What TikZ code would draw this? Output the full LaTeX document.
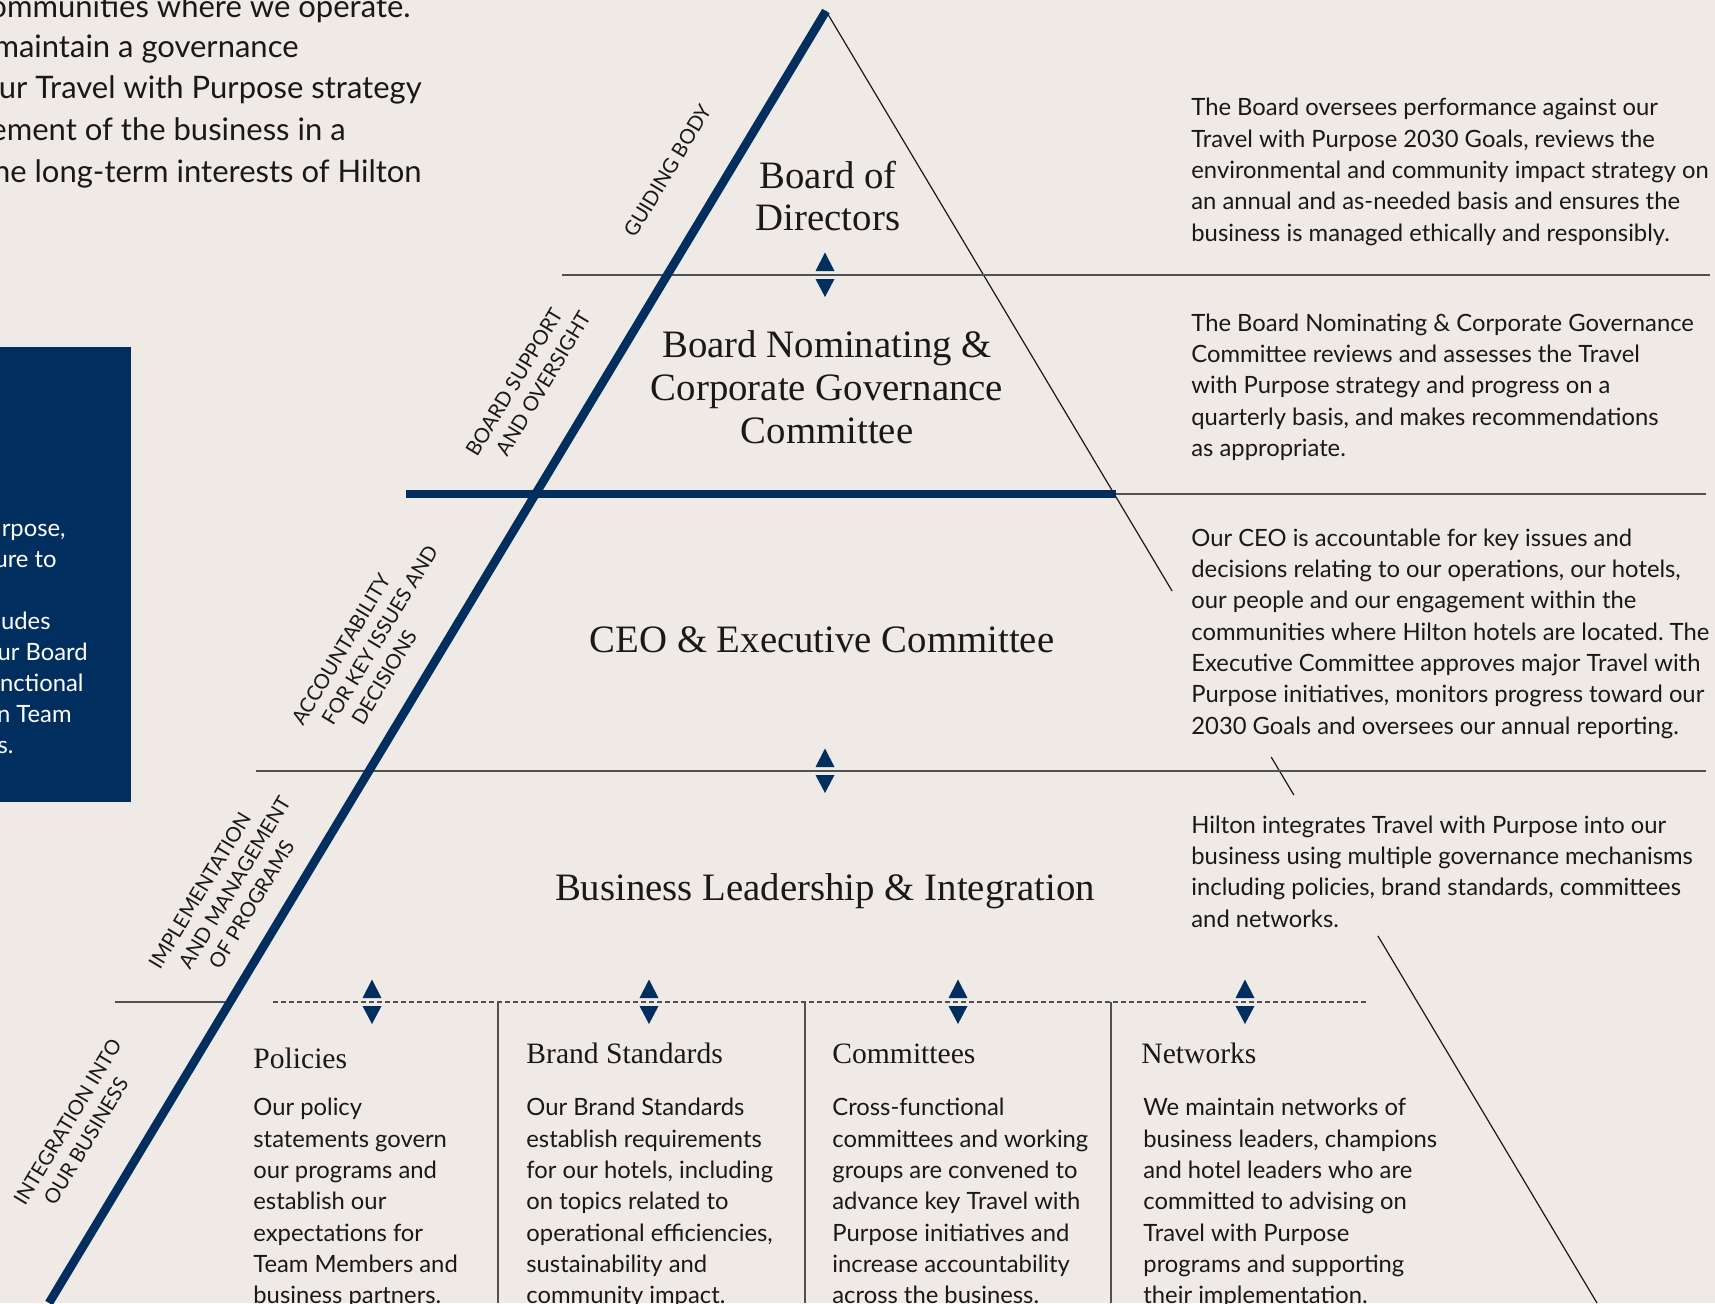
\documentclass[tikz,border=0pt]{standalone}
\usepackage{fontspec}
\setmainfont{Lato}
\newfontfamily\headfont{Liberation Serif}
\usetikzlibrary{calc}
\frenchspacing

\definecolor{paper}{RGB}{240,234,231}
\definecolor{navy}{RGB}{0,47,95}
\definecolor{rulegray}{RGB}{80,80,80}
\definecolor{ink}{RGB}{25,25,25}

\newcommand{\bodysize}{\fontsize{11.9}{15.65}\selectfont}

\tikzset{
  para/.style={anchor=north west, inner sep=0pt, align=left, text=ink,
    font=\bodysize, execute at begin node=\strut},
  levelname/.style={anchor=north, inner sep=0pt, align=center, text=ink,
    font=\headfont\fontsize{19.4}{21.3}\selectfont, execute at begin node=\strut},
  colhead/.style={anchor=base west, inner sep=0pt, text=ink,
    font=\headfont\fontsize{14.8}{17}\selectfont},
  tier/.style={rotate=59, anchor=base west, inner sep=0pt, text=ink,
    font=\fontsize{10.2}{12}\selectfont},
  cutline/.style={anchor=base east, inner sep=0pt},
  thinrule/.style={rulegray, line width=0.7pt},
  updown/.pic={
    \fill[navy] (-9.5,-4) -- (9.5,-4) -- (0,-22.5) -- cycle;
    \fill[navy] (-9.5,4) -- (9.5,4) -- (0,22) -- cycle;
  }
}

\begin{document}
\begin{tikzpicture}[x=0.5pt, y=-0.5pt]
\useasboundingbox (0,0) rectangle (1715,1303);
\fill[paper] (0,0) rectangle (1715,1303);
\clip (0,0) rectangle (1715,1303);

% text running in from the previous column
\foreach \yy/\xx/\txt [count=\i] in {17/411/ommunities where we operate.,
    57/299/maintain a governance, 98/422/ur Travel with Purpose strategy,
    140/346/ement of the business in a, 182/422/he long-term interests of Hilton}
  \node[cutline, text=ink, font=\fontsize{15.5}{20.6}\selectfont] (intro\i) at (\xx,\yy) {\txt};

\fill[navy] (0,347) rectangle (131,802);
\foreach \yy/\xx/\txt [count=\i] in {536/66/{rpose,}, 567/57/ure to, 629/51/udes,
    660/88/ur Board, 691/84/nctional, 722/72/n Team, 753/14/s.}
  \node[cutline, text=white, font=\bodysize] (boxline\i) at (\xx,\yy) {\txt};

% pyramid
\coordinate (apex) at (826,11);
\coordinate (lfoot) at (49,1303);
\coordinate (rfoot) at (1597,1303);

\draw[ink, line width=0.6pt] (apex) -- ($(apex)!0.4489!(rfoot)$);
\draw[ink, line width=0.6pt] ($(apex)!0.5774!(rfoot)$) -- ($(apex)!0.6068!(rfoot)$);
\draw[ink, line width=0.6pt] ($(apex)!0.7159!(rfoot)$) -- (rfoot);

\draw[thinrule] (562,275) -- (1710,275);
\draw[thinrule] (1116,494) -- (1706,494);
\draw[navy, line width=4pt] (406,494) -- (1116,494);
\draw[thinrule] (256,771) -- (1706,771);
\draw[thinrule] (115,1002) -- (230,1002);
\draw[thinrule, dash pattern=on 2.4pt off 1.6pt] (273,1002) -- (1367,1002);
\foreach \xx in {498,805,1111}
  \draw[thinrule] (\xx,1002) -- (\xx,1303);

\draw[navy, line width=4.3pt] (apex) -- (lfoot);

\pic at (825,275) {updown};
\pic at (825,771) {updown};
\foreach \xx in {372,649,958,1245}
  \pic at (\xx,1002) {updown};

% levels
\node[levelname] (board) at (828,160.5) {Board of\\Directors};
\node[levelname] (nomcomm) at (827,330.5) {Board Nominating \&\\Corporate Governance\\Committee};
\node[levelname, anchor=base] (ceo) at (822,652.5) {CEO \& Executive Committee};
\node[levelname, anchor=base] (business) at (825,900) {Business Leadership \& Integration};

% slanted labels
\node[tier] (guiding) at (635,239) {GUIDING BODY};
\foreach \txt [count=\i from 0] in {BOARD SUPPORT, AND OVERSIGHT}
  \node[tier] (support\i) at (477+30*\i,458) {\txt};
\foreach \txt [count=\i from 0] in {ACCOUNTABILITY, FOR KEY ISSUES AND, DECISIONS}
  \node[tier] (account\i) at (303+30*\i,727) {\txt};
\foreach \txt [count=\i from 0] in {IMPLEMENTATION, AND MANAGEMENT, OF PROGRAMS}
  \node[tier] (implement\i) at (160+30*\i,971) {\txt};
\foreach \txt [count=\i from 0] in {INTEGRATION INTO, OUR BUSINESS}
  \node[tier] (integrate\i) at (25+30*\i,1207) {\txt};

% descriptions
\node[para] (boarddesc) at (1191,98) {The Board oversees performance against our\\
  Travel with Purpose 2030 Goals, reviews the\\
  environmental and community impact strategy on\\
  an annual and as-needed basis and ensures the\\
  business is managed ethically and responsibly.};
\node[para] (nomdesc) at (1191,313.4) {The Board Nominating \& Corporate Governance\\
  Committee reviews and assesses the Travel\\
  with Purpose strategy and progress on a\\
  quarterly basis, and makes recommendations\\
  as appropriate.};
\node[para] (ceodesc) at (1191,528.4) {Our CEO is accountable for key issues and\\
  decisions relating to our operations, our hotels,\\
  our people and our engagement within the\\
  communities where Hilton hotels are located. The\\
  Executive Committee approves major Travel with\\
  Purpose initiatives, monitors progress toward our\\
  2030 Goals and oversees our annual reporting.};
\node[para] (busdesc) at (1191,815.4) {Hilton integrates Travel with Purpose into our\\
  business using multiple governance mechanisms\\
  including policies, brand standards, committees\\
  and networks.};

% mechanisms
\node[colhead] (policies) at (253,1068) {Policies};
\node[colhead] (brand) at (526,1063) {Brand Standards};
\node[colhead] (committees) at (832,1063) {Committees};
\node[colhead] (networks) at (1141,1063) {Networks};

\node[para] (policiestext) at (253,1098) {Our policy\\statements govern\\our programs and\\
  establish our\\expectations for\\Team Members and\\business partners.};
\node[para] (brandtext) at (526,1098) {Our Brand Standards\\establish requirements\\
  for our hotels, including\\on topics related to\\operational efficiencies,\\
  sustainability and\\community impact.};
\node[para] (committeestext) at (832,1098) {Cross-functional\\committees and working\\
  groups are convened to\\advance key Travel with\\Purpose initiatives and\\
  increase accountability\\across the business.};
\node[para] (networkstext) at (1143,1098) {We maintain networks of\\business leaders, champions\\
  and hotel leaders who are\\committed to advising on\\Travel with Purpose\\
  programs and supporting\\their implementation.};
\end{tikzpicture}
\end{document}
